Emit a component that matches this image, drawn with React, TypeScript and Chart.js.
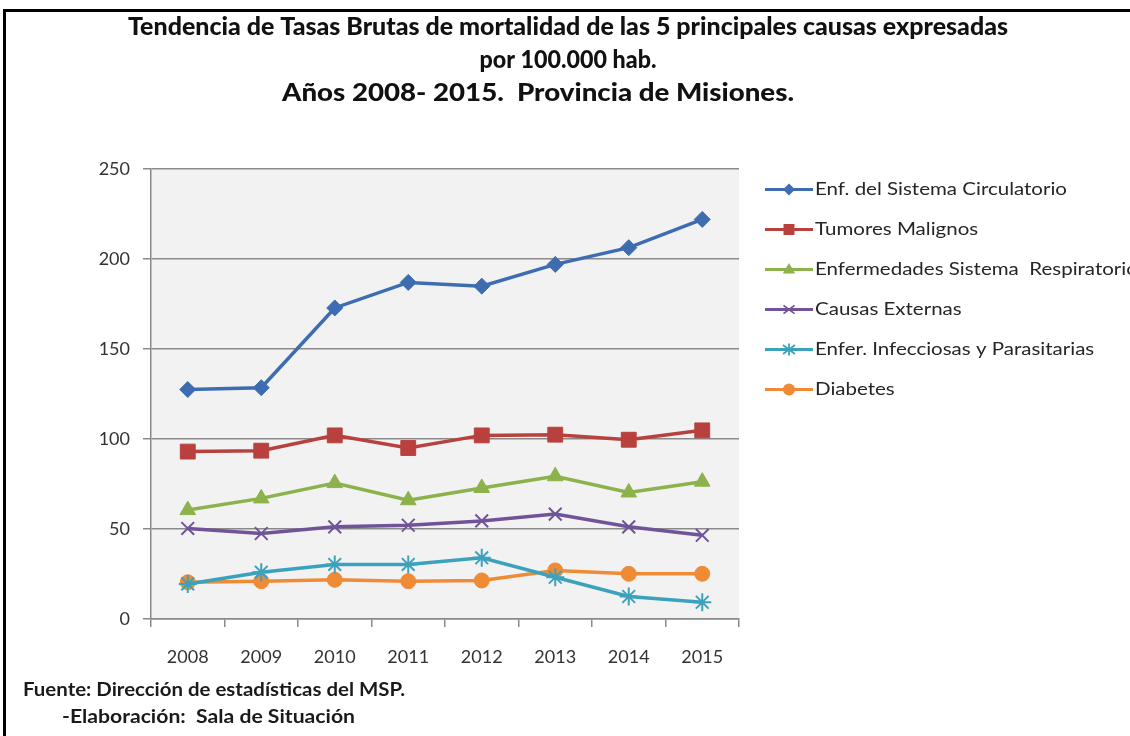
import React, { useEffect, useRef } from 'react';
import { Chart, registerables } from 'chart.js';

Chart.register(...registerables);

// ---- data ----
const years = ['2008', '2009', '2010', '2011', '2012', '2013', '2014', '2015'];
const seriesNames = [
  'Enf. del Sistema Circulatorio',
  'Tumores Malignos',
  'Enfermedades Sistema  Respiratorio',
  'Causas Externas',
  'Enfer. Infecciosas y Parasitarias',
  'Diabetes',
];
const circulatorio = [127.5, 128.5, 172.8, 187, 184.9, 197, 206.3, 222];
const tumores = [93, 93.5, 102, 95, 102, 102.4, 99.6, 104.8];
const respiratorio = [60.5, 67, 75.5, 66, 72.8, 79.3, 70.3, 76.3];
const externas = [50.3, 47.5, 51.2, 52.1, 54.5, 58.3, 51.2, 46.5];
const infecciosas = [19.5, 26, 30.3, 30.3, 34, 23.2, 12.5, 9.3];
const diabetes = [20.4, 21, 21.8, 21, 21.4, 27, 25.1, 25.1];
const yTicks = [0, 50, 100, 150, 200, 250];

const titleLines = [
  'Tendencia de Tasas Brutas de mortalidad de las 5 principales causas expresadas',
  'por 100.000 hab.',
  'Años 2008- 2015.  Provincia de Misiones.',
];
const footerLines = ['Fuente: Dirección de estadísticas del MSP.', '-Elaboración:  Sala de Situación'];

const colors = ['#3D6DB0', '#B8413E', '#8CB24B', '#715399', '#3BA2BE', '#F08B35'];
const styles = ['rectRot', 'rect', 'triangle', 'crossRot', 'star', 'circle'];
const radii = [8, 10.5, 9, 9, 9, 7.5];
const values = [circulatorio, tumores, respiratorio, externas, infecciosas, diabetes];

const FONT = 'Lato, "Open Sans", sans-serif';

function drawScaledText(
  ctx: CanvasRenderingContext2D,
  text: string,
  x: number,
  y: number,
  width: number,
  align: 'left' | 'center'
) {
  const m = ctx.measureText(text).width;
  const sx = width / m;
  ctx.save();
  ctx.translate(x, y);
  ctx.scale(sx, 1);
  ctx.textAlign = align;
  ctx.textBaseline = 'middle';
  ctx.fillText(text, 0, 0);
  ctx.restore();
}

function drawMarker(ctx: CanvasRenderingContext2D, style: string, x: number, y: number, r: number, color: string) {
  ctx.save();
  ctx.fillStyle = color;
  ctx.strokeStyle = color;
  ctx.lineWidth = 1.8;
  ctx.beginPath();
  if (style === 'rectRot') {
    ctx.moveTo(x, y - r);
    ctx.lineTo(x + r, y);
    ctx.lineTo(x, y + r);
    ctx.lineTo(x - r, y);
    ctx.closePath();
    ctx.fill();
  } else if (style === 'rect') {
    ctx.rect(x - r, y - r, 2 * r, 2 * r);
    ctx.fill();
  } else if (style === 'triangle') {
    ctx.moveTo(x, y - r);
    ctx.lineTo(x + r * 0.95, y + r * 0.6);
    ctx.lineTo(x - r * 0.95, y + r * 0.6);
    ctx.closePath();
    ctx.fill();
  } else if (style === 'crossRot') {
    ctx.moveTo(x - r, y - r * 0.75);
    ctx.lineTo(x + r, y + r * 0.75);
    ctx.moveTo(x + r, y - r * 0.75);
    ctx.lineTo(x - r, y + r * 0.75);
    ctx.stroke();
  } else if (style === 'star') {
    ctx.moveTo(x - r, y - r * 0.75);
    ctx.lineTo(x + r, y + r * 0.75);
    ctx.moveTo(x + r, y - r * 0.75);
    ctx.lineTo(x - r, y + r * 0.75);
    ctx.moveTo(x, y - r);
    ctx.lineTo(x, y + r);
    ctx.stroke();
  } else {
    ctx.arc(x, y, r, 0, Math.PI * 2);
    ctx.fill();
  }
  ctx.restore();
}

const bgPlugin = {
  id: 'plotBg',
  beforeDraw(chart: any) {
    const { ctx, chartArea } = chart;
    ctx.save();
    ctx.fillStyle = '#F2F2F2';
    ctx.fillRect(chartArea.left, chartArea.top, chartArea.right - chartArea.left, chartArea.bottom - chartArea.top);
    ctx.restore();
  },
};

const textPlugin = {
  id: 'texts',
  afterDraw(chart: any) {
    const ctx: CanvasRenderingContext2D = chart.ctx;
    ctx.save();
    // title
    ctx.fillStyle = '#111111';
    ctx.font = `900 25px ${FONT}`;
    const tPos = [
      { x: 568, y: 27, w: 880 },
      { x: 568, y: 60, w: 177 },
      { x: 538, y: 93, w: 512 },
    ];
    titleLines.forEach((t, i) => drawScaledText(ctx, t, tPos[i].x, tPos[i].y, tPos[i].w, 'center'));
    // footer
    ctx.font = `bold 18px ${FONT}`;
    ctx.fillStyle = '#1a1a1a';
    drawScaledText(ctx, footerLines[0], 23, 690, 382, 'left');
    drawScaledText(ctx, footerLines[1], 62, 717, 293, 'left');
    // legend
    ctx.font = `18px ${FONT}`;
    ctx.fillStyle = '#262626';
    const sx = 252 / ctx.measureText(seriesNames[0]).width;
    const legR = [6, 5.5, 6.5, 5.5, 6, 6];
    seriesNames.forEach((name, i) => {
      const y = 189.5 + 40 * i;
      ctx.save();
      ctx.strokeStyle = colors[i];
      ctx.lineWidth = 3;
      ctx.beginPath();
      ctx.moveTo(765, y);
      ctx.lineTo(813, y);
      ctx.stroke();
      ctx.restore();
      drawMarker(ctx, styles[i], 789, y, legR[i], colors[i]);
      const w = ctx.measureText(name).width * sx;
      drawScaledText(ctx, name, 815, y, w, 'left');
    });
    ctx.restore();
  },
};

export default function App() {
  const ref = useRef<HTMLCanvasElement>(null);
  useEffect(() => {
    const canvas = ref.current;
    if (!canvas) return;
    const chart = new Chart(canvas, {
      type: 'line',
      data: {
        labels: years,
        datasets: seriesNames.map((name, i) => ({
          label: name,
          data: values[i],
          borderColor: colors[i],
          backgroundColor: colors[i],
          borderWidth: 3.5,
          pointStyle: styles[i] as any,
          pointRadius: radii[i],
          pointBackgroundColor: colors[i],
          pointBorderColor: colors[i],
          pointBorderWidth: styles[i] === 'crossRot' || styles[i] === 'star' ? 2 : 1,
          tension: 0,
          fill: false,
        })),
      },
      options: {
        responsive: false,
        animation: false,
        devicePixelRatio: 1,
        layout: { padding: { left: 81, right: 391, top: 169, bottom: 57 } },
        plugins: {
          legend: { display: false },
          title: { display: false },
          tooltip: { enabled: false },
        },
        scales: {
          x: {
            offset: true,
            grid: {
              offset: true,
              drawOnChartArea: false,
              drawTicks: true,
              tickLength: 8,
              color: '#8A8A8A',
              lineWidth: 1.5,
            },
            border: { color: '#8A8A8A', width: 1.5 },
            ticks: { padding: 19, font: { family: FONT, size: 18 }, color: '#333333' },
            afterFit: (s: any) => {
              s.height = 60;
            },
          },
          y: {
            min: 0,
            max: 250,
            afterBuildTicks: (s: any) => {
              s.ticks = yTicks.map((v) => ({ value: v }));
            },
            grid: { color: '#8A8A8A', lineWidth: 1.5, tickLength: 8 },
            border: { color: '#8A8A8A', width: 1.5 },
            ticks: { padding: 13, font: { family: FONT, size: 18 }, color: '#333333' },
            afterFit: (s: any) => {
              s.width = 70;
            },
          },
        },
      },
      plugins: [bgPlugin, textPlugin],
    });
    return () => chart.destroy();
  }, []);

  return (
    <div
      style={{
        position: 'fixed',
        left: 0,
        top: 0,
        width: 1130,
        height: 736,
        background: '#ffffff',
        overflow: 'hidden',
      }}
    >
      <div
        style={{
          position: 'absolute',
          left: 3,
          top: 9,
          width: 1200,
          height: 800,
          border: '3px solid #000',
          boxSizing: 'border-box',
        }}
      />
      <canvas
        ref={ref}
        width={1130}
        height={736}
        style={{ position: 'absolute', left: 0, top: 0, width: 1130, height: 736 }}
      />
    </div>
  );
}
